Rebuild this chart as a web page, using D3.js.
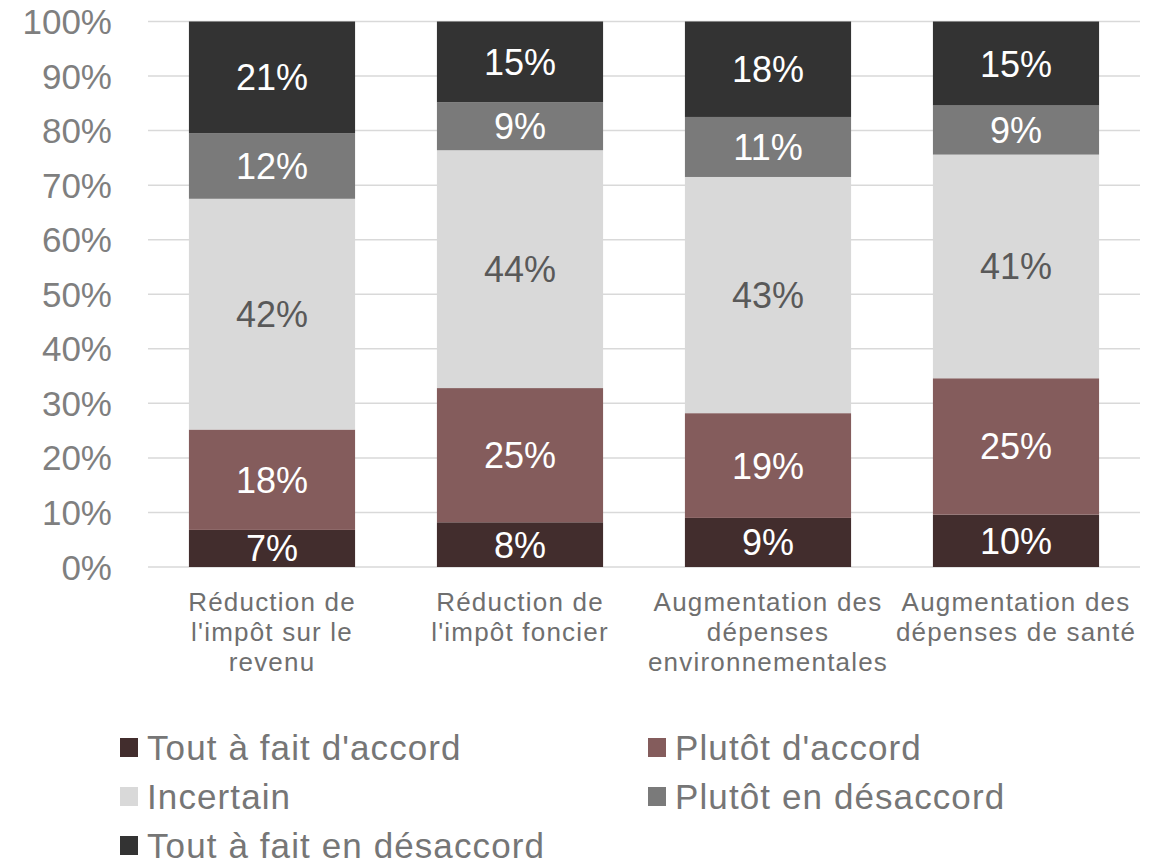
<!DOCTYPE html>
<html>
<head>
<meta charset="utf-8">
<script src="https://cdn.jsdelivr.net/npm/d3@7"></script>
<style>
  body { margin: 0; background: #fff; }
  svg { font-family: "Liberation Sans", Arial, sans-serif; }
</style>
</head>
<body>
<svg id="chart" width="1163" height="859"></svg>
<script>
const categories = [
  "Réduction de\nl'impôt sur le\nrevenu",
  "Réduction de\nl'impôt foncier",
  "Augmentation des\ndépenses\nenvironnementales",
  "Augmentation des\ndépenses de santé"
];
const seriesNames = [
  "Tout à fait d'accord",
  "Plutôt d'accord",
  "Incertain",
  "Plutôt en désaccord",
  "Tout à fait en désaccord"
];
const toutAFaitDAccord = [6.8, 8.2, 9.0, 9.6];
const plutotDAccord = [18.4, 24.6, 19.2, 25.0];
const incertain = [42.3, 43.6, 43.3, 41.0];
const plutotEnDesaccord = [12.0, 8.8, 11.0, 9.0];
const toutAFaitEnDesaccord = [20.5, 14.8, 17.5, 15.4];
const yTicks = [0, 10, 20, 30, 40, 50, 60, 70, 80, 90, 100];

const colors = ["#422d2d", "#845c5c", "#d9d9d9", "#7a7a7a", "#333333"];
const labelColors = ["#ffffff", "#ffffff", "#595959", "#ffffff", "#ffffff"];

const seriesValues = [toutAFaitDAccord, plutotDAccord, incertain, plutotEnDesaccord, toutAFaitEnDesaccord];
const rows = categories.map((c, i) => {
  const r = { cat: c };
  seriesNames.forEach((s, j) => r[s] = seriesValues[j][i]);
  return r;
});
const stacked = d3.stack().keys(seriesNames)(rows);

const svg = d3.select("#chart");
const plotLeft = 148, plotRight = 1140, plotTop = 21.5, plotBottom = 567;

const x = d3.scaleBand().domain(categories).range([plotLeft, plotRight]).paddingInner(0.33).paddingOuter(0.165);
const y = d3.scaleLinear().domain([0, 100]).range([plotBottom, plotTop]);

// gridlines
svg.append("g").selectAll("line").data(yTicks).join("line")
  .attr("x1", plotLeft).attr("x2", plotRight)
  .attr("y1", d => y(d)).attr("y2", d => y(d))
  .attr("stroke", "#d9d9d9").attr("stroke-width", 1.5);

// y axis labels
svg.append("g").selectAll("text").data(yTicks).join("text")
  .attr("x", 112).attr("y", d => y(d) + 12.5)
  .attr("text-anchor", "end")
  .attr("font-size", 35).attr("fill", "#7f7f7f")
  .text(d => d + "%");

// bars
const layers = svg.append("g").selectAll("g").data(stacked).join("g")
  .attr("fill", (d, i) => colors[i]);
layers.selectAll("rect").data(d => d).join("rect")
  .attr("x", d => x(d.data.cat))
  .attr("width", x.bandwidth())
  .attr("y", d => y(d[1]))
  .attr("height", d => y(d[0]) - y(d[1]));

// data labels
const lbl = svg.append("g").selectAll("g").data(stacked).join("g")
  .attr("fill", (d, i) => labelColors[i]);
lbl.selectAll("text").data(d => d).join("text")
  .attr("x", d => x(d.data.cat) + x.bandwidth() / 2)
  .attr("y", d => (y(d[0]) + y(d[1])) / 2 + 13)
  .attr("text-anchor", "middle")
  .attr("font-size", 36)
  .text(d => Math.round(d[1] - d[0] + 1e-9) + "%");

// category labels
const catG = svg.append("g").selectAll("text").data(categories).join("text")
  .attr("text-anchor", "middle")
  .attr("font-size", 26).attr("fill", "#6f6f6f")
  .attr("letter-spacing", 1.2)
  .attr("transform", d => `translate(${x(d) + x.bandwidth() / 2},0)`);
catG.selectAll("tspan").data(d => d.split("\n")).join("tspan")
  .attr("x", 0)
  .attr("y", (d, i) => 611 + i * 30)
  .text(d => d);

// legend
const legendPos = [[120, 760], [648, 760], [120, 809], [648, 809], [120, 858]];
const leg = svg.append("g").selectAll("g").data(seriesNames).join("g")
  .attr("transform", (d, i) => `translate(${legendPos[i][0]},${legendPos[i][1]})`);
leg.append("rect").attr("x", 0).attr("y", -22).attr("width", 18).attr("height", 19)
  .attr("fill", (d, i) => colors[i]);
leg.append("text").attr("x", 27).attr("y", 0)
  .attr("font-size", 35).attr("fill", "#767676")
  .attr("letter-spacing", 1.1)
  .text(d => d);
</script>
</body>
</html>
